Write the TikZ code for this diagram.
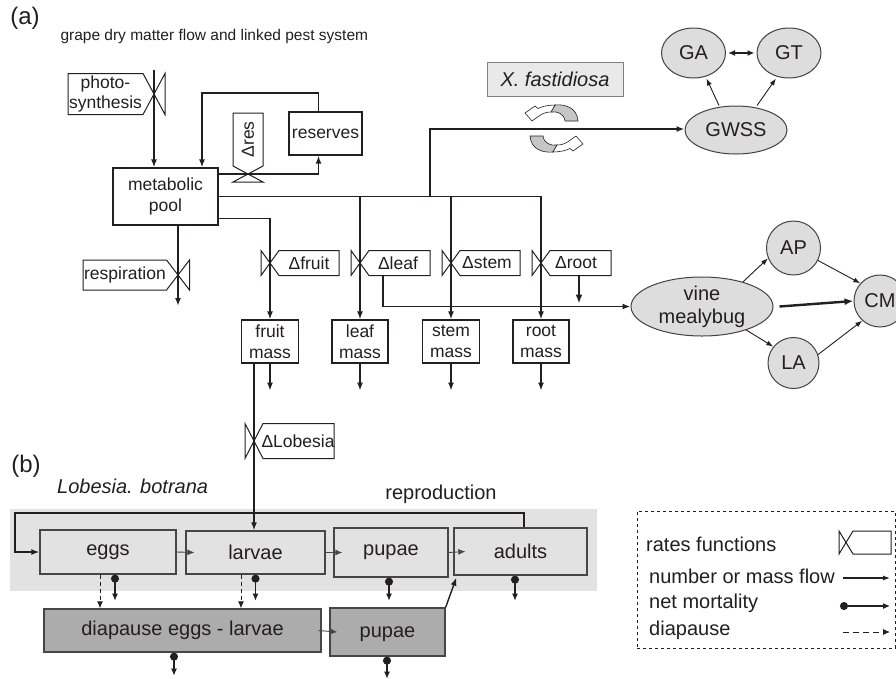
\documentclass[tikz,border=0pt]{standalone}
\usepackage{fontspec}
\setmainfont{Liberation Sans}
\usetikzlibrary{arrows.meta,shapes.geometric}
\definecolor{ink}{RGB}{35,31,32}
\definecolor{stagegray}{RGB}{70,70,70}
\definecolor{pestfill}{RGB}{221,221,221}
\definecolor{panelgray}{RGB}{226,226,226}
\definecolor{diafill}{RGB}{172,172,172}
\definecolor{xffill}{RGB}{233,233,233}
\newcommand{\plantfont}{\fontsize{17.5}{20.5}\selectfont}
\newcommand{\pestfont}{\fontsize{20}{23}\selectfont}
\newcommand{\titlefont}{\fontsize{15.5}{18}\selectfont}
\newcommand{\panelfont}{\fontsize{24}{28}\selectfont}

\tikzset{
  % valve with its flag: #1 flag length, #2 half height, #3 half width
  pics/rate/.style n args={3}{code={
    \draw[ratedraw] (0,0) -- (-#3,-#2) -- (-#3,#2) -- cycle;
    \draw[ratedraw] (0,0) -- (#3,#2) -- (#1,#2) -- (#1,-#2) -- (#3,-#2) -- cycle;
  }},
  pics/swirl/.style={code={
    \draw[ink,line width=0.6pt,fill=gray!45] (11,-7.5) -- (24,-7.5) .. controls (23,-21) and (11,-24.5) .. (1,-23.5)
      -- (-3,-16.5) .. controls (3,-17.5) and (10,-15) .. (11,-7.5) -- cycle;
    \draw[ink,line width=0.6pt,fill=white] (1,-23.5) .. controls (-6,-23.5) and (-12,-22) .. (-16,-20)
      -- (-19,-22.5) -- (-29,-15.5) -- (-22,-7.5) -- (-15,-12.5) .. controls (-11,-15.5) and (-7,-16.5) .. (-3,-16.5) -- cycle;
  }}
}

\begin{document}
\begin{tikzpicture}[x=1pt,y=-1pt]
  \tikzstyle{plant}=[draw=ink,line width=1.2pt,inner sep=0pt,align=center,text=ink,font=\plantfont]
  \tikzstyle{ratelbl}=[inner sep=0pt,align=center,text=ink,font=\plantfont]
  \tikzstyle{ratedraw}=[draw=ink,line width=1pt]
  \tikzstyle{flow}=[-{Latex[length=8pt,width=6pt]},draw=ink,line width=1.6pt]
  \tikzstyle{bigflow}=[-{Latex[length=9pt,width=7pt]},draw=ink,line width=2.4pt]
  \tikzstyle{link}=[-{Latex[length=7pt,width=5pt]},draw=ink,line width=0.9pt]
  \tikzstyle{pest}=[ellipse,draw=ink!85,line width=1pt,fill=pestfill,inner sep=0pt,align=center,text=ink,font=\pestfont]
  \tikzstyle{stage}=[draw=stagegray,line width=1.3pt,inner sep=0pt,text=ink,font=\pestfont]
  \tikzstyle{stagelink}=[-{Latex[length=7pt,width=6pt]},draw=stagegray,line width=0.9pt]
  \tikzstyle{mort}=[{Circle[length=8pt]}-{Latex[length=7pt,width=6pt]},draw=ink,line width=1.1pt]
  \tikzstyle{dia}=[-{Latex[length=7pt,width=6pt]},draw=ink,line width=0.9pt,dash pattern=on 4pt off 3pt]
  \tikzstyle{legtext}=[anchor=west,inner sep=0pt,text=ink,font=\pestfont]

  \path[use as bounding box,fill=white] (0,0) rectangle (896,678);

  % -- (a) grape dry matter --
  \node[font=\panelfont,text=ink] (lbla) at (25,18) {(a)};
  \node[anchor=west,font=\titlefont,text=ink] (title) at (57,36) {grape dry matter flow and linked pest system};

  \node[plant,minimum width=105pt,minimum height=57pt] (pool) at (165.5,196.5) {metabolic\\pool};
  \node[plant,minimum width=73pt,minimum height=43pt] (res) at (325.5,133.5) {reserves};
  \node[plant,minimum width=57pt,minimum height=43pt] (fruitm) at (270,341.5) {fruit\\mass};
  \node[plant,minimum width=56pt,minimum height=43pt] (leafm) at (360,341.5) {leaf\\mass};
  \node[plant,minimum width=57pt,minimum height=43pt] (stemm) at (451,341.5) {stem\\mass};
  \node[plant,minimum width=56pt,minimum height=43pt] (rootm) at (541,341.5) {root\\mass};

  % -- rates --
  \coordinate (psrc) at (154,70);
  \coordinate (vphot) at (154,94);
  \coordinate (vresp) at (178,275);
  \coordinate (respout) at (178,306);
  \coordinate (vres) at (248,174);
  \coordinate (vfruit) at (270,263);
  \coordinate (vleaf) at (360,263);
  \coordinate (vstem) at (451,263);
  \coordinate (vroot) at (541,263);
  \coordinate (rloop) at (202,93);
  \coordinate (xfork) at (430,129);

  \draw[flow] (psrc) -- (pool.north -| psrc);
  \draw[flow] ([xshift=-7pt]res.north) |- (rloop) -- (rloop |- pool.north);
  \draw[flow] (vres -| pool.east) -- (vres) -| ([xshift=-7pt]res.south);
  \draw[flow] (pool.south -| respout) -- (respout);
  \draw[flow] ([yshift=-22pt]pool.east) -| (fruitm.north);
  \draw[flow] (pool.east) -| (leafm.north);
  \draw[flow] (pool.east) -| (stemm.north);
  \draw[flow] (pool.east) -| (rootm.north);
  \foreach \m in {fruitm,leafm,stemm,rootm} {
    \coordinate (\m out) at ([yshift=-27pt]\m.south);
    \draw[flow] (\m.south) -- (\m out);
  }

  \pic[xscale=-1] at (vphot) {rate={86}{20.5}{11}};
  \node[ratelbl] (lphot) at (105.5,94) {photo-\\synthesis};
  \pic[xscale=-1] at (vresp) {rate={95}{15}{11.5}};
  \node[ratelbl] (lresp) at (125,275) {respiration};
  \pic[rotate=90] at (vres) {rate={61}{15}{8}};
  \node[ratelbl,rotate=90] (lres) at (248,139.5) {Δres};
  \pic at (vfruit) {rate={69}{12.5}{9}};
  \node[ratelbl] (lfruit) at (309,263) {Δfruit};
  \pic at (vleaf) {rate={70}{12.5}{9}};
  \node[ratelbl] (lleaf) at (398,263) {Δleaf};
  \pic at (vstem) {rate={69}{12.5}{9}};
  \node[ratelbl] (lstem) at (487,263) {Δstem};
  \pic at (vroot) {rate={70}{12.5}{9}};
  \node[ratelbl] (lroot) at (576,263) {Δroot};

  % -- pests of the vine --
  \node[draw=gray,line width=0.8pt,fill=xffill,minimum width=136pt,minimum height=34pt,inner sep=0pt,
    text=ink,font=\pestfont\itshape] (xf) at (555,79) {X. fastidiosa};
  \pic at (554,128.5) {swirl};
  \pic[rotate=180] at (554,128.5) {swirl};
  \node[pest,minimum width=102pt,minimum height=48pt] (gwss) at (736,130) {GWSS};
  \node[pest,minimum width=64pt,minimum height=50pt] (ga) at (693.5,53) {GA};
  \node[pest,minimum width=64pt,minimum height=50pt] (gt) at (789,53) {GT};
  \node[pest,minimum width=142pt,minimum height=59pt] (vmb) at (702,306.5) {vine\\mealybug};
  \node[pest,circle,minimum size=54pt] (ap) at (793.5,248) {AP};
  \node[pest,circle,minimum size=51pt] (la) at (793.5,363) {LA};
  \node[pest,circle,minimum size=52pt] (cm) at (880,301) {CM};

  \coordinate (leafpest) at (383,275.5);
  \coordinate (rootpest) at (579,275.5);
  \draw[flow] (pool.east) -| (xfork) -- (xfork -| gwss.west);
  \draw[flow] (leafpest) |- (vmb.west);
  \draw[bigflow] (rootpest) -- ([yshift=3pt]rootpest |- vmb.west);
  \draw[link] ([xshift=-17pt]gwss.north) -- ([xshift=13pt]ga.south);
  \draw[link] ([xshift=21pt]gwss.north) -- ([xshift=-13pt]gt.south);
  \draw[{Latex[length=7pt,width=6pt]}-{Latex[length=7pt,width=6pt]},draw=ink,line width=1.8pt,
    shorten <=2pt,shorten >=2pt] (ga.east) -- (gt.west);
  \draw[link] (vmb.31) -- (ap.202);
  \draw[link] (vmb.-28) -- (la.141);
  \draw[link] (ap.-27) -- (cm.138);
  \draw[link] (la.19) -- (cm.228);
  \draw[bigflow] ([xshift=6pt]vmb.east) -- (cm.west);

  % -- (b) Lobesia botrana --
  \node[font=\panelfont,text=ink] (lblb) at (26,466) {(b)};
  \node[anchor=west,inner sep=0pt,text=ink,font=\pestfont\itshape] (lobname) at (57,486) {Lobesia. botrana};
  \node[inner sep=0pt,text=ink,font=\pestfont] (repro) at (441,494) {reproduction};
  \node[fill=panelgray,minimum width=587pt,minimum height=82pt,inner sep=0pt] (panel) at (303.5,550) {};

  \node[stage,minimum width=136pt,minimum height=44pt] (eggs) at (108,552) {eggs};
  \node[stage,minimum width=139pt,minimum height=43pt] (larvae) at (255.5,552.5) {larvae};
  \node[stage,minimum width=114pt,minimum height=49pt] (pupae) at (391,552.5) {pupae};
  \node[stage,minimum width=133pt,minimum height=47pt] (adults) at (520.5,551.5) {adults};
  \node[stage,fill=diafill,minimum width=277pt,minimum height=43pt] (dpause) at (182.5,630.5) {diapause eggs - larvae};
  \node[stage,fill=diafill,minimum width=115pt,minimum height=48pt,text depth=-4pt] (dpupae) at (387.5,632) {pupae};

  \coordinate (vlob) at (254,441);
  \coordinate (loopc) at (15,513);
  \draw[flow] (fruitm.south -| vlob) -- (larvae.north -| vlob);
  \pic at (vlob) {rate={80}{17.5}{9}};
  \node[ratelbl] (llob) at (298,441) {ΔLobesia};
  \draw[flow] ([xshift=3.5pt]adults.north) |- (loopc) |- (eggs.west);

  \draw[stagelink] (eggs.east) -- ([xshift=9pt]larvae.west);
  \draw[stagelink] (larvae.east) -- ([xshift=9pt]pupae.west);
  \draw[stagelink] (pupae.east) -- ([xshift=12pt]adults.west);
  \draw[stagelink] ([xshift=-3pt]dpause.east) -- ([xshift=8pt]dpupae.west);
  \draw[flow,line width=1.4pt] (dpupae.north east) -- ([xshift=3pt,yshift=-2pt]adults.south west);

  \draw[dia] ([xshift=-8pt]eggs.south) -- ([xshift=-8pt]eggs.south |- dpause.north);
  \draw[dia] ([xshift=-14.5pt]larvae.south) -- ([xshift=-14.5pt]larvae.south |- dpause.north);

  \foreach \s/\dx/\len in {eggs/7/26,larvae/0/26,pupae/-2/23,adults/-5.5/25,dpause/-8.5/23,dpupae/-0.5/22} {
    \coordinate (\s dead) at ([xshift=\dx pt,yshift=-\len pt]\s.south);
    \draw[mort] ([xshift=\dx pt]\s.south) -- (\s dead);
  }

  % -- legend --
  \node[draw=ink,dashed,line width=0.8pt,minimum width=258pt,minimum height=137pt,inner sep=0pt] (legend) at (766,579.5) {};
  \node[legtext] (lrate) at (646,544) {rates functions};
  \coordinate (vleg) at (846,542.5);
  \pic at (vleg) {rate={45}{11.5}{7}};
  \node[legtext] (lflow) at (649,576) {number or mass flow};
  \node[legtext] (lmort) at (649,603) {net mortality};
  \node[legtext] (ldia) at (649,630) {diapause};
  \coordinate (lflow0) at (843,578);
  \coordinate (lflow1) at (890,578);
  \coordinate (lmort0) at (840,606);
  \coordinate (lmort1) at (890,606);
  \coordinate (ldia0) at (843,632);
  \coordinate (ldia1) at (890,632);
  \draw[link,line width=1.1pt] (lflow0) -- (lflow1);
  \draw[mort] (lmort0) -- (lmort1);
  \draw[dia,dash pattern=on 6pt off 4pt] (ldia0) -- (ldia1);
\end{tikzpicture}
\end{document}
